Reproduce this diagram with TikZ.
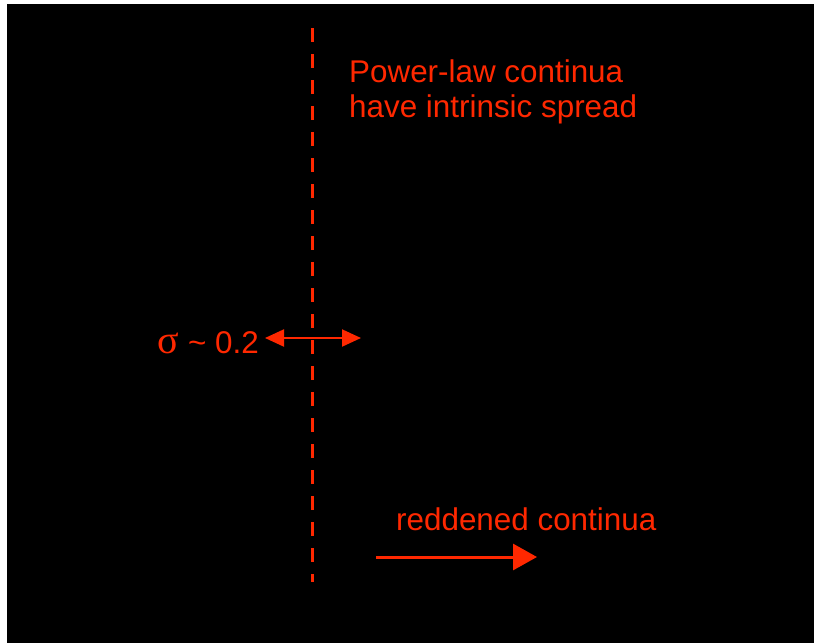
\documentclass[tikz,border=0pt]{standalone}
\usepackage{fontspec}
\setmainfont{Liberation Sans}
\newfontfamily\greekfont{Liberation Serif}
\usetikzlibrary{arrows.meta,positioning}

\definecolor{hotred}{RGB}{255,40,0}

\begin{document}
\begin{tikzpicture}[
    x=1pt, y=-1pt,
    % define styles
    label/.style={
        text=hotred,
        inner sep=0pt,
        anchor=base west,
        font=\fontsize{31.4}{35}\selectfont
    },
    divider/.style={
        draw=hotred,
        line width=3pt,
        dash pattern=on 14pt off 12pt
    },
    spreadarrow/.style={
        draw=hotred,
        line width=2pt,
        {Triangle[length=19pt,width=17pt]}-{Triangle[length=19pt,width=17pt]}
    },
    shiftarrow/.style={
        draw=hotred,
        line width=3pt,
        -{Triangle[length=24pt,width=26pt]}
    }
]
% page and black panel
\useasboundingbox (0,0) rectangle (814,643);
\fill[white] (0,0) rectangle (814,643);
\fill[black] (7,4) rectangle (814,643);

% dashed line
\coordinate (top) at (312,28);
\coordinate (bottom) at (312,582);
\draw[divider] (top) -- (bottom);

% labels
\node[label] (powerlaw) at (349,82) {Power-law continua};
\node[label] (spread) at (349,117) {have intrinsic spread};
\node[label, anchor=base east] (sigma) at (259,353)
    {{\greekfont\fontsize{40}{40}\selectfont σ} \char"007E\ 0.2};
\node[label] (reddened) at (396,530) {reddened continua};

% arrows
\coordinate (sigleft) at (265,338);
\coordinate (sigright) at (361,338);
\draw[spreadarrow] (sigleft) -- (sigright);

\coordinate (redleft) at (376,557);
\coordinate (redright) at (537,557);
\draw[shiftarrow] (redleft) -- (redright);
\end{tikzpicture}
\end{document}
